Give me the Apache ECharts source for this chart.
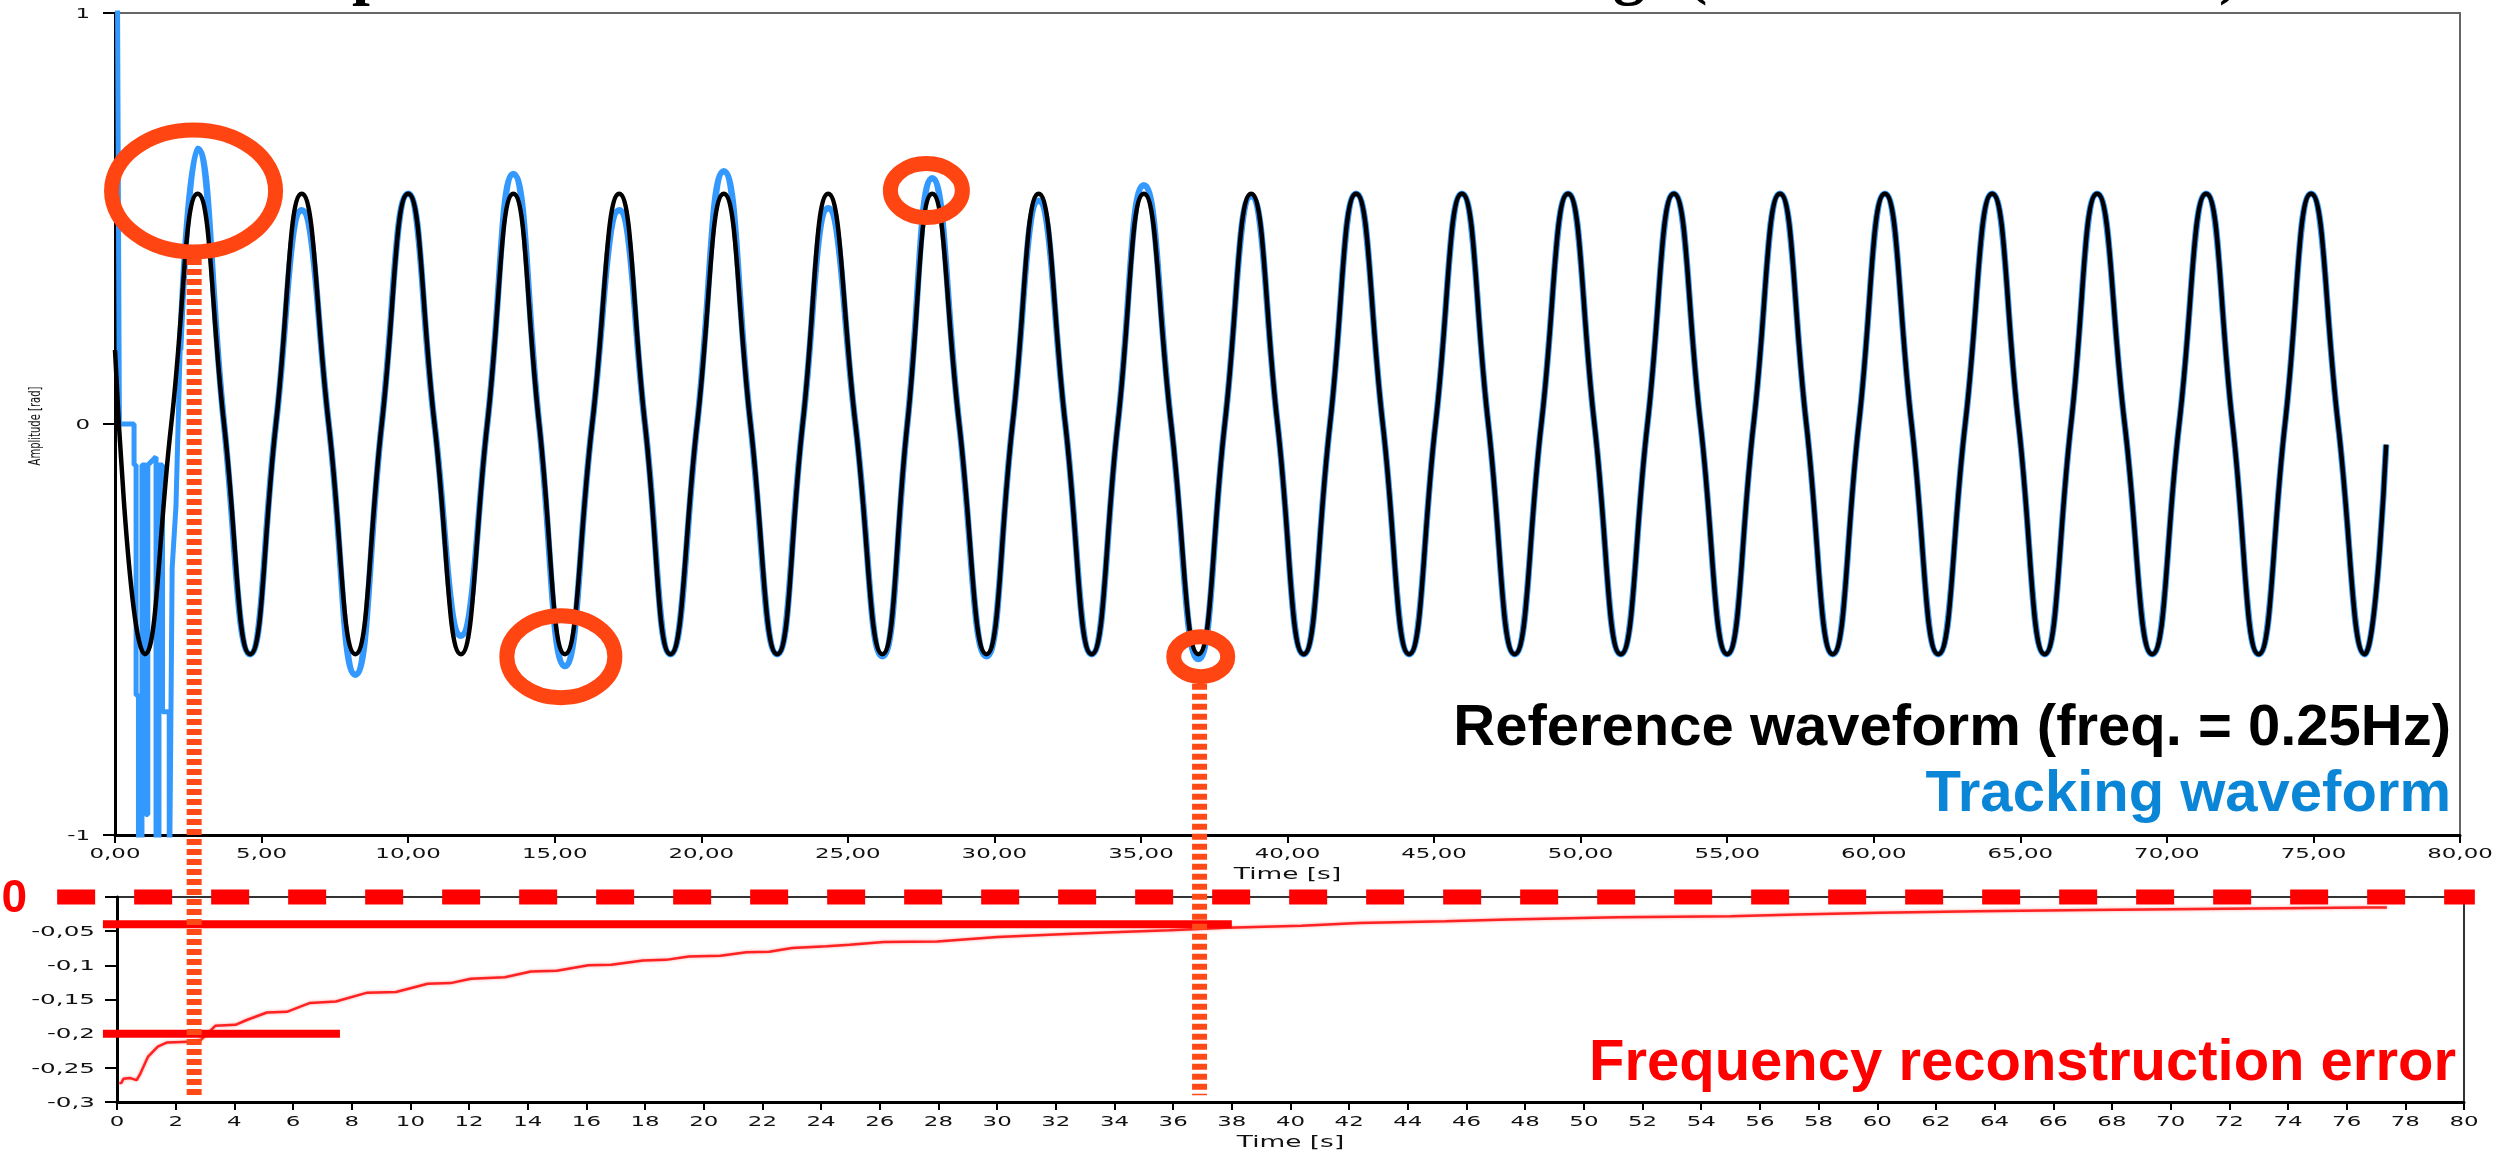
<!DOCTYPE html>
<html>
<head>
<meta charset="utf-8">
<title>Frequency tracking</title>
<script src="https://cdn.jsdelivr.net/npm/echarts@6.0.0/dist/echarts.min.js"></script>
<style>
  html, body { margin: 0; padding: 0; background: #fff; }
  #chart { width: 2504px; height: 1152px; }
</style>
</head>
<body>
<div id="chart"></div>
<script>
// reference waveform (black): time [s] / amplitude [rad], peaks, zero crossings, troughs
const refTime = [
  0, 1.02, 1.92, 2.82, 3.72, 4.61, 5.49, 6.37, 7.29, 8.20,
  9.10, 10.00, 10.90, 11.80, 12.70, 13.59, 14.47, 15.35, 16.28, 17.20,
  18.08, 18.95, 19.86, 20.77, 21.68, 22.59, 23.46, 24.33, 25.26, 26.18,
  27.03, 27.88, 28.80, 29.73, 30.62, 31.51, 32.42, 33.32, 34.21, 35.10,
  36.03, 36.96, 37.86, 38.76, 39.66, 40.55, 41.45, 42.34, 43.25, 44.15,
  45.05, 45.95, 46.85, 47.75, 48.66, 49.57, 50.47, 51.37, 52.28, 53.18,
  54.09, 55.00, 55.90, 56.80, 57.70, 58.60, 59.49, 60.38, 61.29, 62.20,
  63.12, 64.04, 64.94, 65.83, 66.73, 67.62, 68.56, 69.50, 70.42, 71.34,
  72.24, 73.13, 74.03, 74.92, 75.84, 76.75, 77.48
]
const refAmp = [
  0.18, -0.56, 0, 0.56, 0, -0.56, 0, 0.56, 0, -0.56,
  0, 0.56, 0, -0.56, 0, 0.56, 0, -0.56, 0, 0.56,
  0, -0.56, 0, 0.56, 0, -0.56, 0, 0.56, 0, -0.56,
  0, 0.56, 0, -0.56, 0, 0.56, 0, -0.56, 0, 0.56,
  0, -0.56, 0, 0.56, 0, -0.56, 0, 0.56, 0, -0.56,
  0, 0.56, 0, -0.56, 0, 0.56, 0, -0.56, 0, 0.56,
  0, -0.56, 0, 0.56, 0, -0.56, 0, 0.56, 0, -0.56,
  0, 0.56, 0, -0.56, 0, 0.56, 0, -0.56, 0, 0.56,
  0, -0.56, 0, 0.56, 0, -0.56, -0.05
]

// tracking waveform (blue), start-up burst
const burstTime = [
  0.05, 0.15, 0.65, 0.65, 0.72, 0.72, 0.80, 0.80, 0.92, 0.92,
  1.05, 1.05, 1.12, 1.12, 1.40, 1.40, 1.50, 1.50, 1.62, 1.62,
  1.85, 1.85, 1.95, 2.08, 2.22
]
const burstAmp = [
  1.6, 0, 0, -0.1, -0.1, -0.66, -0.66, -1.2, -1.2, -0.1,
  -0.1, -0.95, -0.95, -0.1, -0.08, -1.2, -1.2, -0.1, -0.1, -0.7,
  -0.7, -1.2, -0.35, -0.2, 0.18
]

// tracking waveform (blue), after lock
const trackTime = [
  2.22, 2.82, 3.72, 4.61, 5.49, 6.37, 7.29, 8.20, 9.10, 10.00,
  10.90, 11.80, 12.70, 13.59, 14.47, 15.35, 16.28, 17.20, 18.08, 18.95,
  19.86, 20.77, 21.68, 22.59, 23.46, 24.33, 25.26, 26.18, 27.03, 27.88,
  28.80, 29.73, 30.62, 31.51, 32.42, 33.32, 34.21, 35.10, 36.03, 36.96,
  37.86, 38.76, 39.66, 40.55, 41.45, 42.34, 43.25, 44.15, 45.05, 45.95,
  46.85, 47.75, 48.66, 49.57, 50.47, 51.37, 52.28, 53.18, 54.09, 55.00,
  55.90, 56.80, 57.70, 58.60, 59.49, 60.38, 61.29, 62.20, 63.12, 64.04,
  64.94, 65.83, 66.73, 67.62, 68.56, 69.50, 70.42, 71.34, 72.24, 73.13,
  74.03, 74.92, 75.84, 76.75, 77.48
]
const trackAmp = [
  0.18, 0.67, 0, -0.56, 0, 0.52, 0, -0.61, 0, 0.56,
  0, -0.515, 0, 0.608, 0, -0.589, 0, 0.52, 0, -0.56,
  0, 0.615, 0, -0.56, 0, 0.525, 0, -0.565, 0, 0.598,
  0, -0.565, 0, 0.543, 0, -0.56, 0, 0.581, 0, -0.572,
  0, 0.555, 0, -0.56, 0, 0.56, 0, -0.56, 0, 0.56,
  0, -0.56, 0, 0.56, 0, -0.56, 0, 0.56, 0, -0.56,
  0, 0.56, 0, -0.56, 0, 0.56, 0, -0.56, 0, 0.56,
  0, -0.56, 0, 0.56, 0, -0.56, 0, 0.56, 0, -0.56,
  0, 0.56, 0, -0.56, -0.05
]

// frequency reconstruction error
const errTime = [
  0.08, 0.15, 0.22, 0.45, 0.67, 0.80, 1.06, 1.39, 1.69, 2.47,
  2.86, 3.35, 4.04, 4.42, 5.11, 5.79, 6.58, 7.46, 8.53, 9.51,
  10.59, 11.37, 12.06, 13.22, 14.11, 14.99, 16.07, 16.85, 17.93, 18.71,
  19.49, 20.57, 21.45, 22.23, 23.01, 24.19, 24.97, 26.14, 27.96, 30.01,
  31.97, 33.91, 35.88, 37.83, 40.38, 42.33, 45.28, 47.43, 51.15, 55.00,
  57.27, 60.07, 63.39, 67.24, 70.90, 76.68, 77.37
]
const errVal = [
  -0.2725, -0.272, -0.266, -0.265, -0.268, -0.258, -0.2335, -0.219, -0.213, -0.212,
  -0.209, -0.1885, -0.187, -0.18, -0.169, -0.168, -0.155, -0.153, -0.14, -0.139,
  -0.127, -0.126, -0.1195, -0.1175, -0.109, -0.108, -0.1, -0.099, -0.093, -0.092,
  -0.087, -0.086, -0.081, -0.08, -0.0746, -0.072, -0.07, -0.066, -0.065, -0.0584,
  -0.055, -0.0516, -0.0487, -0.045, -0.042, -0.038, -0.0355, -0.033, -0.0296, -0.028,
  -0.0257, -0.0232, -0.0208, -0.019, -0.0174, -0.0154, -0.0152
]

// tick labels
const topTimeTicks = [0, 5, 10, 15, 20, 25, 30, 35, 40, 45, 50, 55, 60, 65, 70, 75, 80]
const bottomTimeTicks = Array.from({ length: 41 }, (_, i) => i * 2)
const ampTicks = [1, 0, -1]
const errTicks = [0, -0.05, -0.1, -0.15, -0.2, -0.25, -0.3]

// annotations, in data units
const ringTime = [2.68, 15.21, 27.68, 37.04]
const ringAmp = [0.567, -0.566, 0.568, -0.566]
const ringRx = [82, 54, 36, 27]
const ringRy = [61, 41, 27, 20]
const guideTime = [2.70, 37.0]
const guideRing = [0, 3]
const guideEnd = -0.29
const levelVal = [0, -0.04, -0.2]
const levelFrom = [-2.04, -0.48, -0.48]
const levelTo = [80.37, 38.0, 7.6]

const pairs = (xs, ys) => xs.map((x, i) => [x, ys[i]])
const comma = v => String(+v.toFixed(2)).replace('.', ',')

const chart = echarts.init(document.getElementById('chart'))

const baseAxis = {
  axisLine: { onZero: false, lineStyle: { color: '#000', width: 3 } },
  axisTick: { length: 8, lineStyle: { color: '#000', width: 2 } },
  axisLabel: { show: false },
  splitLine: { show: false }
}

const option = {
  animation: false,
  backgroundColor: '#fff',
  grid: [
    { left: 115, top: 13, right: 44, height: 822, show: true, borderColor: '#666', borderWidth: 2, outerBoundsMode: 'none' },
    { left: 117, top: 897, right: 40, height: 205, show: true, borderColor: '#333', borderWidth: 2, outerBoundsMode: 'none' }
  ],
  xAxis: [
    { ...baseAxis, type: 'value', gridIndex: 0, min: 0, max: 80, interval: 5 },
    { ...baseAxis, type: 'value', gridIndex: 1, min: 0, max: 80, interval: 2 }
  ],
  yAxis: [
    { ...baseAxis, type: 'value', gridIndex: 0, min: -1, max: 1, interval: 1, axisTick: { length: 12, lineStyle: { color: '#000', width: 2 } } },
    { ...baseAxis, type: 'value', gridIndex: 1, min: -0.3, max: 0, interval: 0.05, axisTick: { length: 12, lineStyle: { color: '#000', width: 2 } } }
  ],
  series: [
    {
      name: 'Tracking waveform', type: 'line', xAxisIndex: 0, yAxisIndex: 0,
      data: pairs(burstTime, burstAmp), showSymbol: false, z: 3,
      lineStyle: { color: '#3399ff', width: 5 }
    },
    {
      name: 'Tracking waveform', type: 'line', xAxisIndex: 0, yAxisIndex: 0,
      data: pairs(trackTime, trackAmp), smooth: 0.5, showSymbol: false, z: 3,
      lineStyle: { color: '#3399ff', width: 6.5 }
    },
    {
      name: 'Reference waveform', type: 'line', xAxisIndex: 0, yAxisIndex: 0,
      data: pairs(refTime, refAmp), smooth: 0.5, showSymbol: false, z: 4,
      lineStyle: { color: '#000', width: 4.5 }
    },
    {
      name: 'Frequency reconstruction error', type: 'line', xAxisIndex: 1, yAxisIndex: 1,
      data: pairs(errTime, errVal), showSymbol: false, z: 3,
      lineStyle: { color: '#ff2222', width: 2.5, shadowColor: 'rgba(255,90,90,0.6)', shadowBlur: 3 }
    }
  ]
}

chart.setOption(option)

// overlays placed through the axes
const toPx = (g, t, v) => chart.convertToPixel({ gridIndex: g }, [t, v])
const els = []

const text = (str, x, y, opts) => ({
  type: 'text', z: opts.z || 110, x, y,
  scaleX: opts.sx || 1, scaleY: opts.sy || 1, rotation: opts.rot || 0,
  style: {
    text: str, fill: opts.color || '#111', font: opts.font,
    align: opts.align || 'center', textAlign: opts.align || 'center',
    verticalAlign: 'middle', textVerticalAlign: 'middle'
  }
})

// axis tick labels and names (the screenshot is stretched sideways)
const tickFont = '14.5px "DejaVu Sans"'
const nameFont = '16.5px "DejaVu Sans"'
const stretch = 1.58
topTimeTicks.forEach(t => {
  const x = toPx(0, t, -1)[0]
  els.push(text(t.toFixed(2).replace('.', ','), x, 854, { font: tickFont, sx: stretch, z: 5 }))
})
bottomTimeTicks.forEach(t => {
  const x = toPx(1, t, -0.3)[0]
  els.push(text(String(t), x, 1122, { font: tickFont, sx: stretch, z: 5 }))
})
ampTicks.forEach(v => {
  const y = toPx(0, 0, v)[1]
  els.push(text(String(v), 90, y + 1, { font: tickFont, sx: stretch, align: 'right', z: 5 }))
})
errTicks.forEach(v => {
  const y = toPx(1, 0, v)[1]
  els.push(text(comma(v), 95, y + 1, { font: tickFont, sx: 1.7, align: 'right', z: 5 }))
})
els.push(text('Time [s]', toPx(0, 40, -1)[0], 875, { font: nameFont, sx: 1.6, z: 5 }))
els.push(text('Time [s]', toPx(1, 40, -0.3)[0], 1143, { font: nameFont, sx: 1.6, z: 5 }))
els.push(text('Amplitude [rad]', 36, toPx(0, 0, 0)[1] + 2, { font: '10px "DejaVu Sans"', sy: 1.65, rot: Math.PI / 2, z: 5 }))

ringTime.forEach((t, i) => {
  const [cx, cy] = toPx(0, t, ringAmp[i])
  els.push({
    type: 'ellipse', z: 100,
    shape: { cx, cy, rx: ringRx[i], ry: ringRy[i] },
    style: { fill: 'none', stroke: '#ff4511', lineWidth: 15 }
  })
})

guideTime.forEach((t, i) => {
  const r = guideRing[i]
  const top = toPx(0, t, ringAmp[r])[1] + ringRy[r] + 7
  const x = toPx(0, t, 0)[0]
  const bottom = toPx(1, 0, guideEnd)[1]
  els.push({
    type: 'line', z: 99,
    shape: { x1: x, y1: top, x2: x, y2: bottom },
    style: { stroke: '#ff4a17', lineWidth: 15, lineDash: [6, 4] }
  })
})

levelVal.forEach((v, i) => {
  const [x1, y] = toPx(1, levelFrom[i], v)
  const x2 = toPx(1, levelTo[i], v)[0]
  els.push({
    type: 'line', z: 98,
    shape: { x1, y1: y, x2, y2: y },
    style: i === 0
      ? { stroke: '#ff0000', lineWidth: 15, lineDash: [38, 39] }
      : { stroke: '#ff0000', lineWidth: 8 }
  })
})

const bold = size => 'bold ' + size + 'px "Liberation Sans"'
const serif = 'bold 64px "Liberation Serif"'
const zeroPx = toPx(1, -3.5, 0)
els.push(text('0', zeroPx[0], zeroPx[1] + 2, { font: bold(46), color: '#ff0000' }))
els.push(text('Reference waveform (freq. = 0.25Hz)', 2451, 729, { font: bold(58), color: '#000', align: 'right' }))
els.push(text('Tracking waveform', 2451, 795, { font: bold(58), color: '#0b86d6', align: 'right' }))
els.push(text('Frequency reconstruction error', 2456, 1064, { font: bold(58), color: '#ff0000', align: 'right' }))

// clipped title at the very top, only descenders visible
els.push(text('p', 352, -25, { font: serif, color: '#000', align: 'left' }))
els.push(text('g', 1613, -25, { font: serif, color: '#000', align: 'left' }))
els.push(text('(', 1686, -25, { font: serif, color: '#000', align: 'left' }))
els.push(text(')', 2219, -25, { font: serif, color: '#000', align: 'left' }))

chart.setOption({ graphic: { elements: els } })
</script>
</body>
</html>
